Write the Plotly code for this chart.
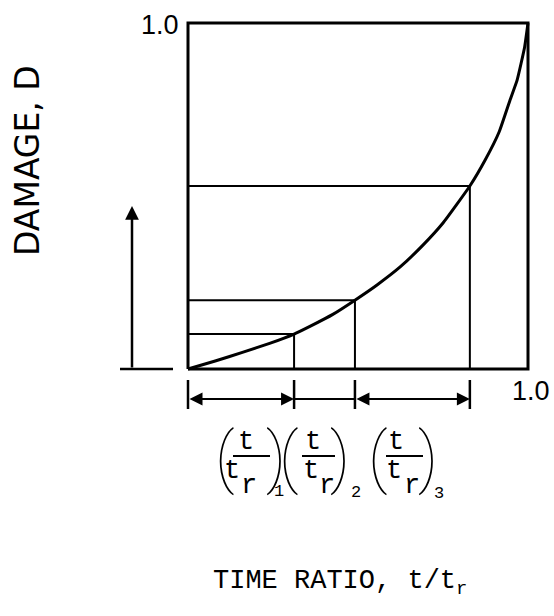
import plotly.graph_objects as go

# ---------------- data ----------------
curve_t = [0, 0.08, 0.16, 0.24, 0.312, 0.36, 0.426, 0.491, 0.556, 0.624,
           0.691, 0.75, 0.829, 0.874, 0.915, 0.947, 0.968, 0.99, 1.0]
curve_d = [0, 0.023, 0.048, 0.074, 0.101, 0.124, 0.158, 0.199, 0.243, 0.295,
           0.358, 0.422, 0.529, 0.604, 0.685, 0.777, 0.835, 0.93, 1.0]
step_t = [0.312, 0.491, 0.829]
step_d = [0.101, 0.199, 0.529]
x_end_label = "1.0"
y_end_label = "1.0"
x_title = "TIME RATIO, t/t<sub>r</sub>"
y_title = "DAMAGE, D"
step_subs = ["1", "2", "3"]

# ---------------- layout helpers (pixel -> data) ----------------
W, H = 554, 616
PX0, PX1, PY0, PY1 = 188, 528, 369, 23
SX, SY = PX1 - PX0, PY0 - PY1


def X(px):
    return (px - PX0) / SX


def Y(py):
    return (PY0 - py) / SY


fig = go.Figure()
blk = "black"

# frame
fig.add_trace(go.Scatter(x=[0, 0, 1, 1, 0], y=[0, 1, 1, 0, 0], mode="lines",
                         line=dict(color=blk, width=3), hoverinfo="skip"))
# left extension of the time axis
fig.add_trace(go.Scatter(x=[X(120), X(173)], y=[0, 0], mode="lines",
                         line=dict(color=blk, width=2.5), hoverinfo="skip"))
# step guide lines
gx, gy = [], []
for t, d in zip(step_t, step_d):
    gx += [0, t, t, None]
    gy += [d, d, 0, None]
fig.add_trace(go.Scatter(x=gx, y=gy, mode="lines",
                         line=dict(color=blk, width=2), hoverinfo="skip"))
# damage curve
fig.add_trace(go.Scatter(x=curve_t, y=curve_d, mode="lines",
                         line=dict(color=blk, width=3, shape="spline", smoothing=0.4),
                         hoverinfo="skip"))

# dimension ticks
ticks = [0] + step_t
tx, ty = [], []
for t in ticks:
    tx += [t, t, None]
    ty += [Y(380), Y(409), None]
fig.add_trace(go.Scatter(x=tx, y=ty, mode="lines",
                         line=dict(color=blk, width=2.5), hoverinfo="skip"))
# plain middle dimension segment
fig.add_trace(go.Scatter(x=[step_t[0], step_t[1]], y=[Y(399), Y(399)], mode="lines",
                         line=dict(color=blk, width=2), hoverinfo="skip"))

ann = []
# double arrows
for a, b in [(0, step_t[0]), (step_t[1], step_t[2])]:
    ann.append(dict(x=b, y=Y(399), ax=a, ay=Y(399), xref="x", yref="y",
                    axref="x", ayref="y", text="", showarrow=True,
                    arrowhead=2, startarrowhead=2, arrowside="end+start",
                    arrowsize=1.3, startarrowsize=1.3, arrowwidth=2,
                    arrowcolor=blk, standoff=0, startstandoff=0))
# left upward arrow
ann.append(dict(x=X(132), y=Y(206), ax=X(132), ay=0, xref="x", yref="y",
                axref="x", ayref="y", text="", showarrow=True, arrowhead=2,
                arrowsize=1.1, arrowwidth=2.5, arrowcolor=blk, standoff=0))

sans = "Liberation Sans"
mono = "Liberation Mono"
# end labels
ann.append(dict(x=X(181), y=Y(25), xref="x", yref="y", text=y_end_label,
                showarrow=False, xanchor="right", yanchor="middle",
                font=dict(family=sans, size=27, color=blk)))
ann.append(dict(x=X(510), y=Y(391), xref="x", yref="y", text=x_end_label,
                showarrow=False, xanchor="left", yanchor="middle",
                font=dict(family=sans, size=27, color=blk)))
# axis titles
ann.append(dict(x=X(27), y=Y(161), xref="x", yref="y", text=y_title,
                showarrow=False, textangle=-90, xanchor="center", yanchor="middle",
                font=dict(family="DejaVu Sans", size=33, color=blk)))
ann.append(dict(x=X(211), y=Y(583), xref="x", yref="y", text=x_title,
                showarrow=False, xanchor="left", yanchor="middle",
                font=dict(family=mono, size=27, color=blk)))

# fraction labels (t/t_r)_i
groups = [
    # lparen, rparen, numerator, line x0, x1, denom t, denom r, sub x, sub y
    (225, 276, 246, 233, 270, 232, 249, 279, 491),
    (289, 340, 313, 302, 335, 311, 327, 356, 492),
    (378, 428, 396, 386, 423, 394, 412, 439, 493),
]
pfont = dict(family="Roboto", size=66, color=blk, weight=100)
tfont = dict(family=mono, size=27, color=blk)
shapes = []
for (lp, rp, nx, l0, l1, dtx, drx, sx, sy), sub in zip(groups, step_subs):
    ann.append(dict(x=X(lp), y=Y(457), xref="x", yref="y", text="(", showarrow=False,
                    xanchor="center", yanchor="middle", font=pfont))
    ann.append(dict(x=X(rp), y=Y(457), xref="x", yref="y", text=")", showarrow=False,
                    xanchor="center", yanchor="middle", font=pfont))
    ann.append(dict(x=X(nx), y=Y(442), xref="x", yref="y", text="t", showarrow=False,
                    xanchor="center", yanchor="middle", font=tfont))
    ann.append(dict(x=X(dtx), y=Y(471), xref="x", yref="y", text="t", showarrow=False,
                    xanchor="center", yanchor="middle", font=tfont))
    ann.append(dict(x=X(drx), y=Y(486), xref="x", yref="y", text="r", showarrow=False,
                    xanchor="center", yanchor="middle", font=tfont))
    ann.append(dict(x=X(sx), y=Y(sy), xref="x", yref="y", text=sub, showarrow=False,
                    xanchor="center", yanchor="middle",
                    font=dict(family=mono, size=17, color=blk)))
    shapes.append(dict(type="line", xref="x", yref="y", x0=X(l0), x1=X(l1),
                       y0=Y(456), y1=Y(456), line=dict(color=blk, width=2)))

fig.update_layout(
    width=W, height=H, autosize=False,
    margin=dict(l=0, r=0, t=0, b=0, pad=0),
    paper_bgcolor="white", plot_bgcolor="white",
    showlegend=False,
    xaxis=dict(range=[X(0), X(W)], visible=False, fixedrange=True),
    yaxis=dict(range=[Y(H), Y(0)], visible=False, fixedrange=True),
    annotations=ann, shapes=shapes,
)

fig.write_html("out.html", config={"displayModeBar": False},
               post_script="document.body.style.margin='0';"
                           "document.body.style.overflow='hidden';")
